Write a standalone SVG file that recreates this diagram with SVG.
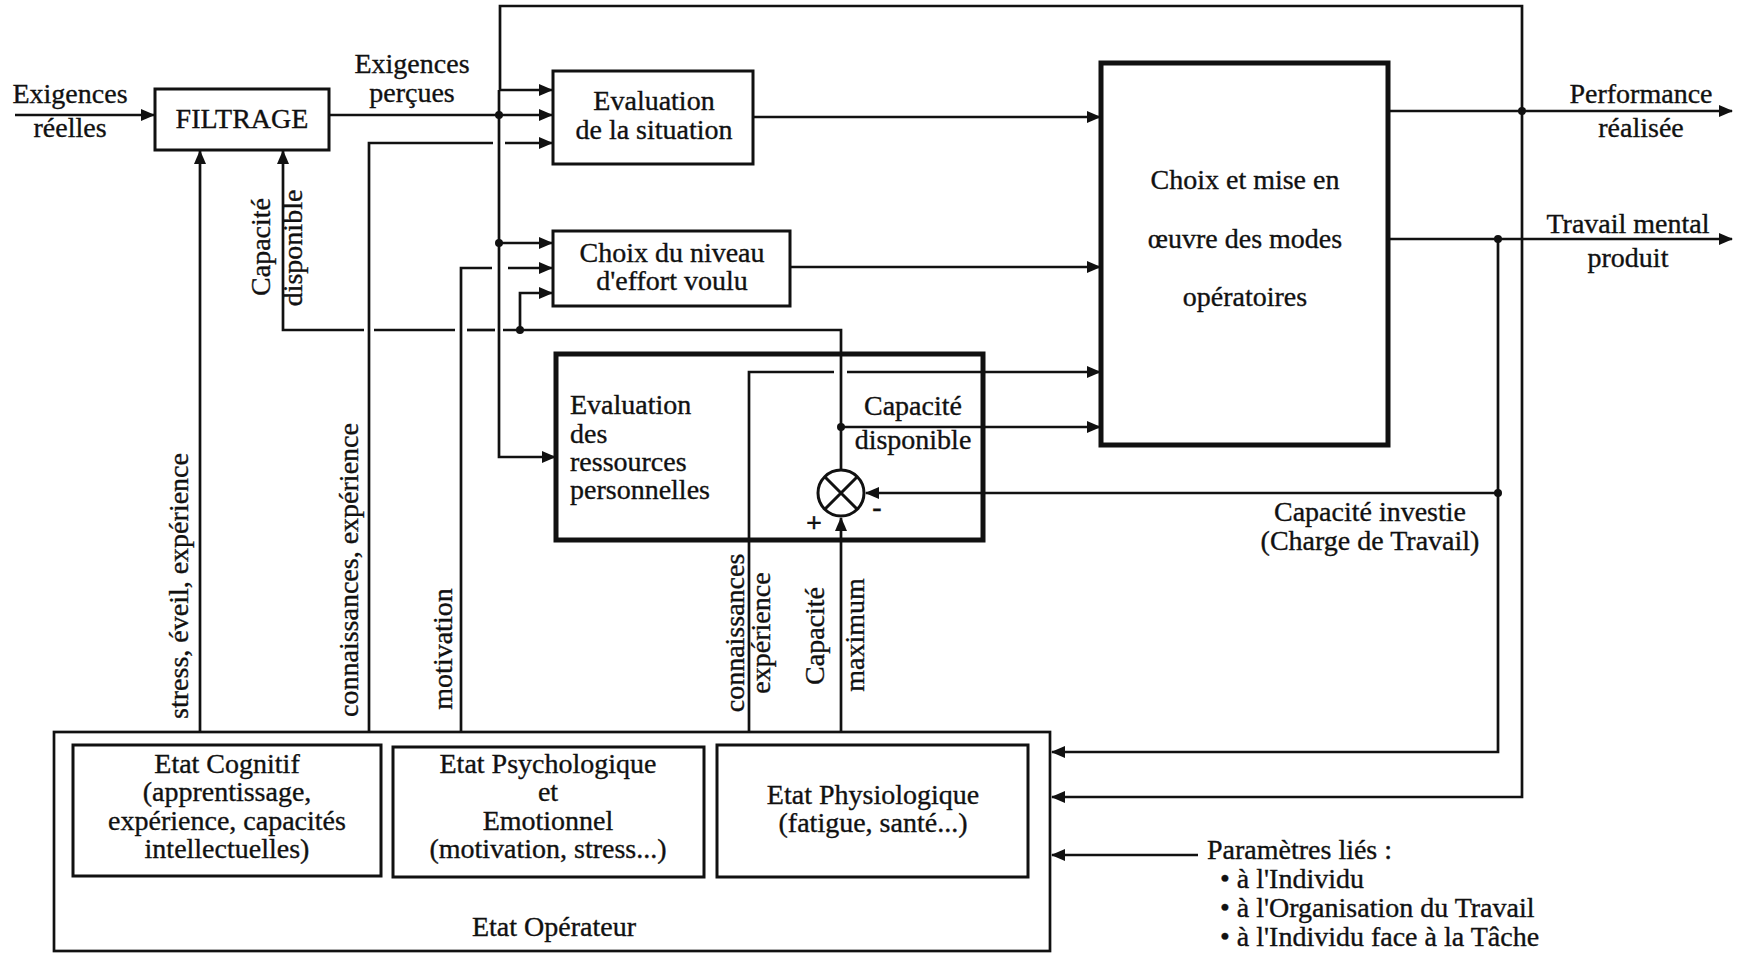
<svg xmlns="http://www.w3.org/2000/svg" width="1742" height="960" viewBox="0 0 1742 960">
<style>
text{font-family:"Liberation Serif","Times New Roman",serif;font-size:28px;fill:#111;stroke:#111;stroke-width:0.35}
.c{text-anchor:middle}
.box{fill:#fff;stroke:#111;stroke-width:3}
.thick{fill:#fff;stroke:#111;stroke-width:5}
.ln{fill:none;stroke:#111;stroke-width:2.7}
.arr{fill:none;stroke:#111;stroke-width:2.7;marker-end:url(#ah)}
.dot{fill:#111}
</style>
<defs>
<marker id="ah" markerUnits="userSpaceOnUse" markerWidth="14" markerHeight="12" refX="13" refY="6" orient="auto">
<path d="M0,0 L14,6 L0,12 z" fill="#111"/>
</marker>
</defs>
<rect width="1742" height="960" fill="#fff"/>

<g id="connectors">
<path class="arr" d="M15,115 H154"/>
<path class="arr" d="M329,115 H552"/>
<path class="arr" d="M1522,111 V6 H500 V90 H552"/>
<path class="arr" d="M1522,111 V797 H1052"/>
<path class="arr" d="M1388,111 H1732"/>
<path class="arr" d="M1388,239 H1732"/>
<path class="arr" d="M1498,239 V752 H1052"/>
<path class="arr" d="M1498,493 H866"/>
<path class="arr" d="M499,90 V457 H555"/>
<path class="arr" d="M499,243 H552"/>
<path class="ln" d="M369,732 V143 H493"/>
<path class="arr" d="M505,143 H552"/>
<path class="ln" d="M461,732 V268 H492"/>
<path class="arr" d="M508,268 H552"/>
<path class="arr" d="M200,732 V151"/>
<path class="ln" d="M841,469 V330 H503"/>
<path class="ln" d="M495,330 H467"/>
<path class="ln" d="M455,330 H374"/>
<path class="arr" d="M364,330 H283 V151"/>
<path class="arr" d="M520,330 V293 H552"/>
<path class="arr" d="M841,427 H1100"/>
<path class="ln" d="M749,732 V372 H834"/>
<path class="arr" d="M847,372 H1100"/>
<path class="arr" d="M841,732 V518"/>
<path class="arr" d="M753,117 H1100"/>
<path class="arr" d="M790,267 H1100"/>
<path class="arr" d="M1198,855 H1052"/>
<circle class="dot" cx="499" cy="115" r="4"/>
<circle class="dot" cx="499" cy="243" r="4"/>
<circle class="dot" cx="520" cy="330" r="4"/>
<circle class="dot" cx="841" cy="427" r="4"/>
<circle class="dot" cx="1522" cy="111" r="4"/>
<circle class="dot" cx="1498" cy="239" r="4"/>
<circle class="dot" cx="1498" cy="493" r="4"/>
</g>

<g id="filtrage">
<rect class="box" x="155" y="89" width="174" height="61"/>
<text class="c" x="242" y="128">FILTRAGE</text>
</g>

<g id="eval-situation">
<rect class="box" x="553" y="71" width="200" height="93"/>
<text class="c" x="654" y="110">Evaluation</text>
<text class="c" x="654" y="139">de la situation</text>
</g>

<g id="choix-niveau">
<rect class="box" x="553" y="231" width="237" height="75"/>
<text class="c" x="672" y="262">Choix du niveau</text>
<text class="c" x="672" y="290">d'effort voulu</text>
</g>

<g id="choix-modes">
<rect class="thick" x="1101" y="63" width="287" height="382"/>
<text class="c" x="1245" y="189">Choix et mise en</text>
<text class="c" x="1245" y="248">œuvre des modes</text>
<text class="c" x="1245" y="306">opératoires</text>
</g>

<g id="eval-ressources">
<rect class="thick" x="556" y="354" width="427" height="186" style="fill:none"/>
<text x="570" y="414">Evaluation</text>
<text x="570" y="443">des</text>
<text x="570" y="471">ressources</text>
<text x="570" y="499">personnelles</text>
<text class="c" x="913" y="415">Capacité</text>
<text class="c" x="913" y="449">disponible</text>
</g>

<g id="comparateur">
<circle cx="841" cy="493" r="23" fill="#fff" stroke="#111" stroke-width="3"/>
<path class="ln" d="M825,477 L857,509 M857,477 L825,509" style="stroke-width:3"/>
<text class="c" x="814" y="532" style="font-weight:bold">+</text>
<text class="c" x="877" y="516" style="font-weight:bold">-</text>
</g>

<g id="etat-operateur">
<rect class="box" x="54" y="732" width="996" height="219" style="stroke-width:2.7"/>
<text class="c" x="554" y="936">Etat Opérateur</text>
</g>

<g id="etat-cognitif">
<rect class="box" x="73" y="745" width="308" height="131"/>
<text class="c" x="227" y="773">Etat Cognitif</text>
<text class="c" x="227" y="801">(apprentissage,</text>
<text class="c" x="227" y="830">expérience, capacités</text>
<text class="c" x="227" y="858">intellectuelles)</text>
</g>

<g id="etat-psychologique">
<rect class="box" x="393" y="747" width="311" height="130"/>
<text class="c" x="548" y="773">Etat Psychologique</text>
<text class="c" x="548" y="801">et</text>
<text class="c" x="548" y="830">Emotionnel</text>
<text class="c" x="548" y="858">(motivation, stress...)</text>
</g>

<g id="etat-physiologique">
<rect class="box" x="717" y="745" width="311" height="132"/>
<text class="c" x="873" y="804">Etat Physiologique</text>
<text class="c" x="873" y="832">(fatigue, santé...)</text>
</g>

<g id="labels">
<text class="c" x="70" y="103">Exigences</text>
<text class="c" x="70" y="137">réelles</text>
<text class="c" x="412" y="73">Exigences</text>
<text class="c" x="412" y="102">perçues</text>
<text class="c" x="1641" y="103">Performance</text>
<text class="c" x="1641" y="137">réalisée</text>
<text class="c" x="1628" y="233">Travail mental</text>
<text class="c" x="1628" y="267">produit</text>
<text class="c" x="1370" y="521">Capacité investie</text>
<text class="c" x="1370" y="550">(Charge de Travail)</text>
<text x="1207" y="859">Paramètres liés :</text>
<text x="1220" y="888">• à l'Individu</text>
<text x="1220" y="917">• à l'Organisation du Travail</text>
<text x="1220" y="946">• à l'Individu face à la Tâche</text>
<text class="c" transform="translate(270,247) rotate(-90)">Capacité</text>
<text class="c" transform="translate(302,248) rotate(-90)">disponible</text>
<text class="c" transform="translate(188,586) rotate(-90)">stress, éveil, expérience</text>
<text class="c" transform="translate(358,570) rotate(-90)">connaissances, expérience</text>
<text class="c" transform="translate(452,649) rotate(-90)">motivation</text>
<text class="c" transform="translate(744,633) rotate(-90)">connaissances</text>
<text class="c" transform="translate(770,633) rotate(-90)">expérience</text>
<text class="c" transform="translate(824,636) rotate(-90)">Capacité</text>
<text class="c" transform="translate(864,635) rotate(-90)">maximum</text>
</g>
</svg>
